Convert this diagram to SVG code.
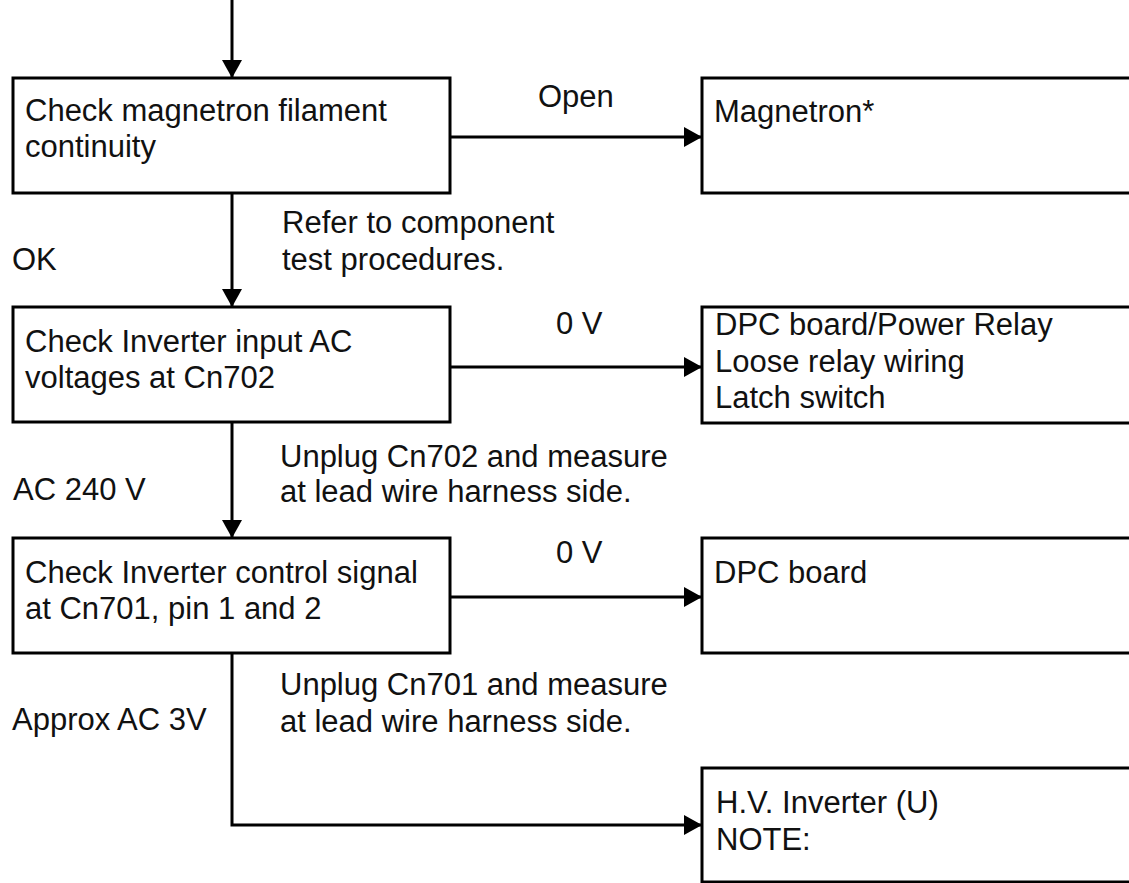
<svg xmlns="http://www.w3.org/2000/svg" width="1129" height="883" viewBox="0 0 1129 883">
<style>
text{font-family:"Liberation Sans",Arial,Helvetica,sans-serif;font-size:31px;fill:#111}
.box{fill:#fff;stroke:#000;stroke-width:3}
.conn{fill:none;stroke:#000;stroke-width:3}
</style>
<defs>
<marker id="arr" viewBox="0 0 18 20" refX="18" refY="10" markerWidth="18" markerHeight="20" markerUnits="userSpaceOnUse" orient="auto">
<path d="M0,0 L18,10 L0,20 z" fill="#000"/>
</marker>
</defs>
<rect width="1129" height="883" fill="#fff"/>
<g id="connectors">
<path class="conn" d="M232,0 V78" marker-end="url(#arr)"/>
<path class="conn" d="M232,193 V307" marker-end="url(#arr)"/>
<path class="conn" d="M232,422 V538" marker-end="url(#arr)"/>
<path class="conn" d="M232,653 V825 H702" marker-end="url(#arr)"/>
<path class="conn" d="M450,137 H702" marker-end="url(#arr)"/>
<path class="conn" d="M450,367 H702" marker-end="url(#arr)"/>
<path class="conn" d="M450,597 H702" marker-end="url(#arr)"/>
</g>
<g id="labels">
<text x="538" y="107">Open</text>
<text x="556" y="334">0 V</text>
<text x="556" y="563">0 V</text>
<text x="12" y="270">OK</text>
<text x="282" y="233">Refer to component</text>
<text x="282" y="270">test procedures.</text>
<text x="13" y="500">AC 240 V</text>
<text x="280" y="467">Unplug Cn702 and measure</text>
<text x="280" y="502">at lead wire harness side.</text>
<text x="12" y="730">Approx AC 3V</text>
<text x="280" y="695">Unplug Cn701 and measure</text>
<text x="280" y="732">at lead wire harness side.</text>
</g>
<g id="check-magnetron">
<rect class="box" x="13" y="78" width="437" height="115"/>
<text x="25" y="121">Check magnetron filament</text>
<text x="25" y="157">continuity</text>
</g>
<g id="magnetron">
<rect class="box" x="702" y="78" width="500" height="115"/>
<text x="714" y="122">Magnetron*</text>
</g>
<g id="check-input">
<rect class="box" x="13" y="307" width="437" height="115"/>
<text x="25" y="352">Check Inverter input AC</text>
<text x="25" y="388">voltages at Cn702</text>
</g>
<g id="dpc-power-relay">
<rect class="box" x="702" y="307" width="500" height="116"/>
<text x="715" y="335">DPC board/Power Relay</text>
<text x="715" y="372">Loose relay wiring</text>
<text x="715" y="408">Latch switch</text>
</g>
<g id="check-control">
<rect class="box" x="13" y="538" width="437" height="115"/>
<text x="25" y="583">Check Inverter control signal</text>
<text x="25" y="619">at Cn701, pin 1 and 2</text>
</g>
<g id="dpc-board">
<rect class="box" x="702" y="538" width="500" height="115"/>
<text x="714" y="583">DPC board</text>
</g>
<g id="hv-inverter">
<rect class="box" x="702" y="768" width="500" height="114"/>
<text x="716" y="813">H.V. Inverter (U)</text>
<text x="716" y="850">NOTE:</text>
</g>
</svg>
